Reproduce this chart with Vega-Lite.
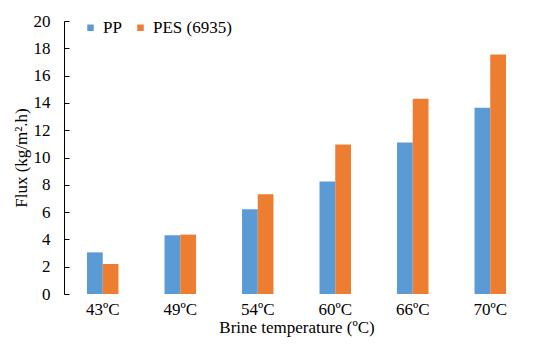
{
  "$schema": "https://vega.github.io/schema/vega-lite/v6.json",
  "autosize": {"type": "none"},
  "padding": {"left": 64, "top": 21, "right": 21, "bottom": 63},
  "width": 465,
  "height": 273,
  "background": "white",
  "config": {
    "font": "Liberation Serif",
    "view": {"stroke": null},
    "axis": {"labelFont": "Liberation Serif", "titleFont": "Liberation Serif", "labelColor": "#000", "titleColor": "#000", "titleFontWeight": "normal", "grid": false},
    "legend": {"labelFont": "Liberation Serif", "labelColor": "#000"}
  },
  "data": {
    "values": [
      {"temp": "43ºC", "series": "PP", "flux": 3.05},
      {"temp": "49ºC", "series": "PP", "flux": 4.3},
      {"temp": "54ºC", "series": "PP", "flux": 6.2},
      {"temp": "60ºC", "series": "PP", "flux": 8.25},
      {"temp": "66ºC", "series": "PP", "flux": 11.1},
      {"temp": "70ºC", "series": "PP", "flux": 13.65},
      {"temp": "43ºC", "series": "PES (6935)", "flux": 2.2},
      {"temp": "49ºC", "series": "PES (6935)", "flux": 4.35},
      {"temp": "54ºC", "series": "PES (6935)", "flux": 7.3},
      {"temp": "60ºC", "series": "PES (6935)", "flux": 10.95},
      {"temp": "66ºC", "series": "PES (6935)", "flux": 14.3},
      {"temp": "70ºC", "series": "PES (6935)", "flux": 17.55}
    ]
  },
  "mark": {"type": "bar"},
  "encoding": {
    "x": {
      "field": "temp", "type": "nominal", "sort": null,
      "scale": {"paddingInner": 0.594, "paddingOuter": 0.297},
      "axis": {"title": "Brine temperature (ºC)", "labelAngle": 0, "domain": false, "ticks": false, "labelFontSize": 17, "labelPadding": 7, "titleFontSize": 17, "titlePadding": 2}
    },
    "xOffset": {"field": "series", "type": "nominal", "sort": ["PP", "PES (6935)"]},
    "y": {
      "field": "flux", "type": "quantitative",
      "scale": {"domain": [0, 20]},
      "axis": {"title": "Flux (kg/m².h)", "values": [0,2,4,6,8,10,12,14,16,18,20], "tickSize": -5, "tickColor": "#000", "domainColor": "#000", "labelFontSize": 17, "labelPadding": 19, "titleFontSize": 17, "titlePadding": 3}
    },
    "color": {
      "field": "series", "type": "nominal",
      "scale": {"domain": ["PP", "PES (6935)"], "range": ["#5B9BD5", "#ED7D31"]},
      "legend": {"title": null, "orient": "none", "legendX": 18, "legendY": -2, "direction": "horizontal", "symbolType": "square", "symbolSize": 42, "symbolStrokeWidth": 0, "labelFontSize": 17, "columnPadding": 10, "symbolOffset": 0, "labelOffset": 4}
    }
  }
}
